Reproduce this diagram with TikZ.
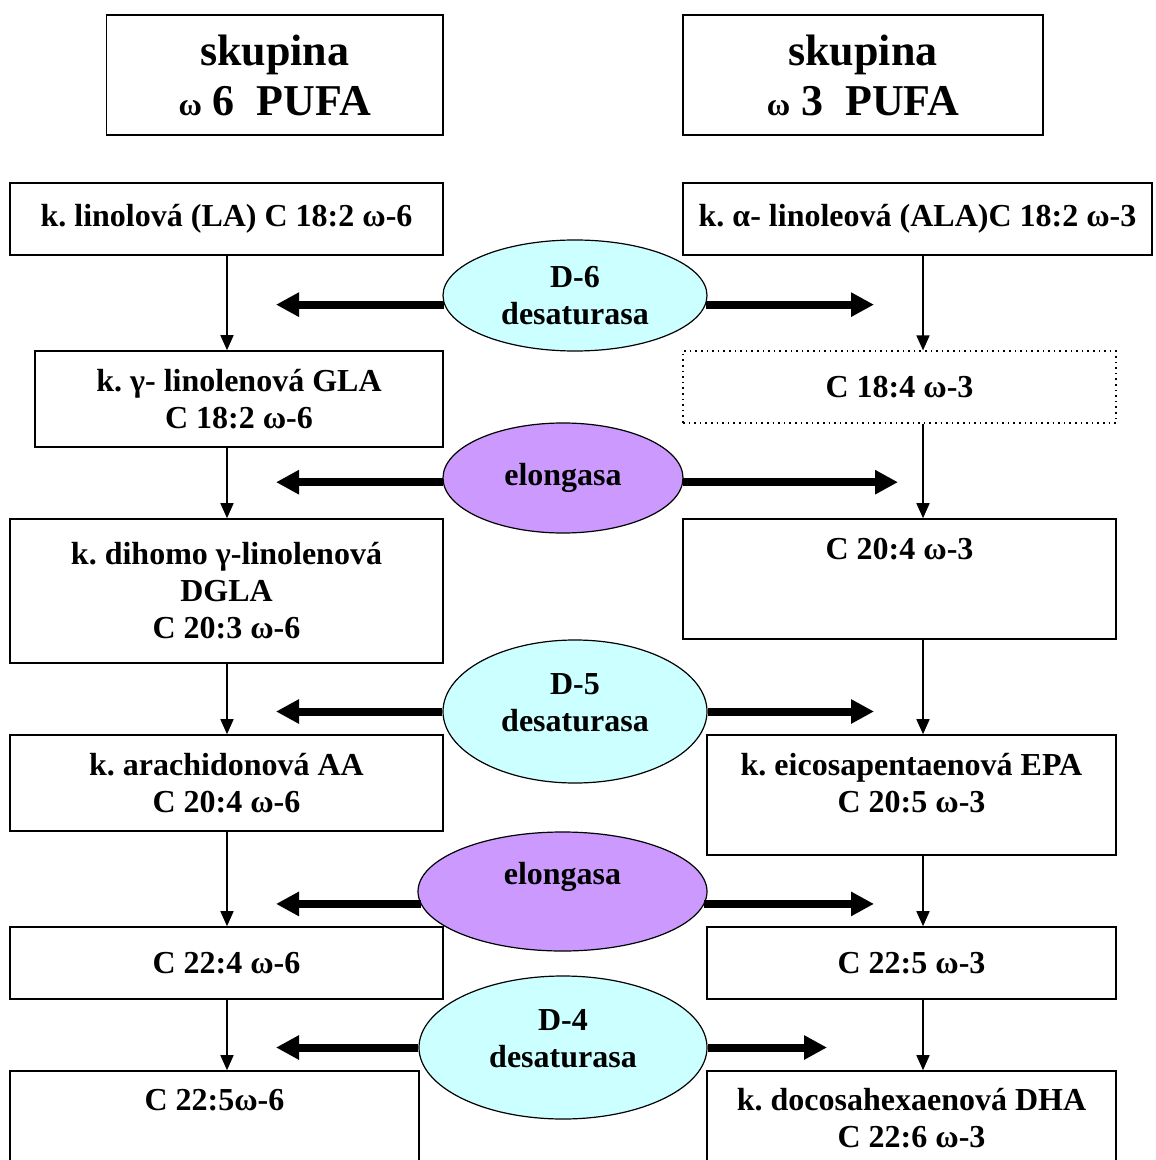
\documentclass[tikz,border=0pt]{standalone}
\usepackage{fontspec}
\setmainfont{Liberation Serif}
\usetikzlibrary{arrows.meta,shapes.geometric}
\frenchspacing
\definecolor{desatcol}{HTML}{CCFFFF}
\definecolor{elongcol}{HTML}{CC99FF}
\tikzset{
  box/.style={draw, line width=0.8pt, inner sep=0pt, minimum width=216.5pt, align=center,
    font=\bfseries\fontsize{16}{18.5}\selectfont},
  hdr/.style={draw, line width=0.8pt, inner sep=0pt, minimum height=60pt, align=center,
    font=\bfseries\fontsize{22}{25}\selectfont},
  enz/.style={ellipse, draw, line width=0.6pt, inner sep=0pt, align=center,
    font=\bfseries\fontsize{16}{18.5}\selectfont},
  desat/.style={enz, fill=desatcol},
  elong/.style={enz, fill=elongcol},
  enzarrow/.style={line width=4pt, -{Triangle[length=11.5pt,width=11.5pt]}},
  convarrow/.style={line width=0.8pt, -{Triangle[length=7.5pt,width=6.5pt]}},
}
\begin{document}
\begin{tikzpicture}[x=0.5pt, y=-0.5pt]
  \useasboundingbox (0,0) rectangle (1155,1160);
  % group headers
  \node[hdr, minimum width=168.25pt] (hdr6) at (274.75,75) {skupina\\{\fontsize{16}{25}\selectfont ω} 6\ \ PUFA};
  \node[hdr, minimum width=180pt] (hdr3) at (863,75) {skupina\\{\fontsize{16}{25}\selectfont ω} 3\ \ PUFA};
  % omega-6 column
  \node[box, minimum height=36pt] (la) at (226.5,219) {k. linolová (LA) C 18:2 ω-6};
  \node[box, minimum width=204pt, minimum height=48pt] (gla) at (239,399) {k. γ- linolenová GLA\\C 18:2 ω-6};
  \node[box, minimum height=72pt] (dgla) at (226.5,591) {k. dihomo γ-linolenová\\DGLA\\C 20:3 ω-6};
  \node[box, minimum height=48pt] (aa) at (226.5,783) {k. arachidonová AA\\C 20:4 ω-6};
  \node[box, minimum height=36pt] (c224) at (226.5,963) {C 22:4 ω-6};
  \node[box, minimum width=204.5pt, minimum height=47pt] (c225w6) at (214.5,1118) {C 22:5ω-6\\\mbox{}};
  % omega-3 column
  \node[box, minimum width=234.5pt, minimum height=36pt] (ala) at (917.5,219) {k. α- linoleová (ALA)C 18:2 ω-3};
  \node[box, dotted, line width=0.6pt, minimum height=36pt] (c184) at (899.5,387) {C 18:4 ω-3};
  \node[box, minimum height=60pt] (c204) at (899.5,579) {C 20:4 ω-3\\[11.3pt]\mbox{}};
  \node[box, minimum width=204.5pt, minimum height=60pt] (epa) at (911.5,795) {k. eicosapentaenová EPA\\C 20:5 ω-3\\[-6.8pt]\mbox{}};
  \node[box, minimum width=204.5pt, minimum height=36pt] (c225) at (911.5,963) {C 22:5 ω-3};
  \node[box, minimum width=204.5pt, minimum height=47pt] (dha) at (911.5,1118) {k. docosahexaenová DHA\\C 22:6 ω-3};
  % enzymes
  \node[desat, minimum width=132pt, minimum height=55.5pt] (d6) at (575,295.5) {D-6\\desaturasa};
  \node[elong, minimum width=120pt, minimum height=55pt] (el1) at (563,478) {elongasa};
  \node[desat, minimum width=132pt, minimum height=71.5pt] (d5) at (575,711.5) {D-5\\desaturasa\\[-9.7pt]\mbox{}};
  \node[elong, minimum width=144.5pt, minimum height=59.5pt] (el2) at (562.5,891.5) {elongasa\\\mbox{}};
  \node[desat, minimum width=144pt, minimum height=71.5pt] (d4) at (563,1047.5) {D-4\\desaturasa\\[-9.7pt]\mbox{}};
  % arrow ends
  \coordinate (lcol) at (227,0);
  \coordinate (rcol) at (923,0);
  \coordinate (tipl) at (276,0);
  \coordinate (tipd6) at (874,0);
  \coordinate (tipel1) at (898,0);
  \coordinate (tipd5) at (874,0);
  \coordinate (tipel2) at (874,0);
  \coordinate (tipd4) at (827,0);
  % conversions
  \draw[convarrow] (lcol |- la.south) -- (lcol |- gla.north);
  \draw[convarrow] (lcol |- gla.south) -- (lcol |- dgla.north);
  \draw[convarrow] (lcol |- dgla.south) -- (lcol |- aa.north);
  \draw[convarrow] (lcol |- aa.south) -- (lcol |- c224.north);
  \draw[convarrow] (lcol |- c224.south) -- (lcol |- c225w6.north);
  \draw[convarrow] (rcol |- ala.south) -- (rcol |- c184.north);
  \draw[convarrow] (rcol |- c184.south) -- (rcol |- c204.north);
  \draw[convarrow] (rcol |- c204.south) -- (rcol |- epa.north);
  \draw[convarrow] (rcol |- epa.south) -- (rcol |- c225.north);
  \draw[convarrow] (rcol |- c225.south) -- (rcol |- dha.north);
  % enzymes act on both
  \draw[enzarrow] (d6.184) -- (d6.184 -| tipl);
  \draw[enzarrow] (d6.356) -- (d6.356 -| tipd6);
  \draw[enzarrow] (el1.182) -- (el1.182 -| tipl);
  \draw[enzarrow] (el1.358) -- (el1.358 -| tipel1);
  \draw[enzarrow] (d5.west) -- (d5.west -| tipl);
  \draw[enzarrow] (d5.east) -- (d5.east -| tipd5);
  \draw[enzarrow] (el2.185) -- (el2.185 -| tipl);
  \draw[enzarrow] (el2.355) -- (el2.355 -| tipel2);
  \draw[enzarrow] (d4.west) -- (d4.west -| tipl);
  \draw[enzarrow] (d4.east) -- (d4.east -| tipd4);
\end{tikzpicture}
\end{document}
